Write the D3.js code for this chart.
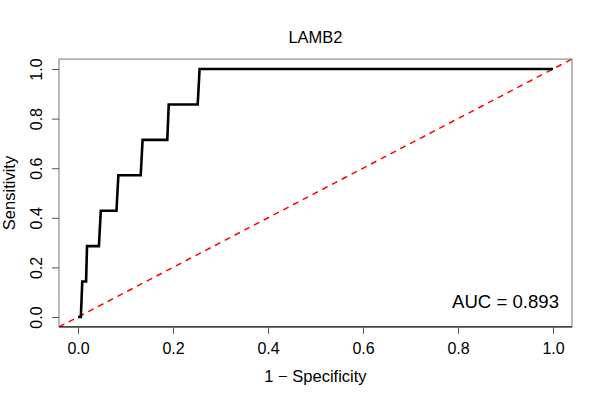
<!DOCTYPE html>
<html>
<head>
<meta charset="utf-8">
<script src="https://cdn.jsdelivr.net/npm/d3@7"></script>
<style>
  body { margin: 0; background: #fff; }
  text { font-family: "Liberation Sans", Arial, sans-serif; fill: #000; }
</style>
</head>
<body>
<div id="chart"></div>
<script>
// ROC curve data (1 - specificity vs sensitivity)
const fpr = [0, 0.006, 0.009, 0.017, 0.019, 0.044, 0.048, 0.081, 0.085, 0.132, 0.136, 0.188, 0.191, 0.252, 0.256, 1];
const tpr = [0, 0, 1/7, 1/7, 2/7, 2/7, 3/7, 3/7, 4/7, 4/7, 5/7, 5/7, 6/7, 6/7, 1, 1];
const xTicks = [0, 0.2, 0.4, 0.6, 0.8, 1.0];
const yTicks = [0, 0.2, 0.4, 0.6, 0.8, 1.0];
const chartTitle = 'LAMB2';
const aucLabel = 'AUC = 0.893';

const width = 600, height = 400;

const svg = d3.select('#chart')
    .append('svg')
    .attr('width', width)
    .attr('height', height);

// R-style scales: data range padded 4% on each side
const x = d3.scaleLinear().domain([0, 1]).range([78, 553]);
const y = d3.scaleLinear().domain([0, 1]).range([317, 69]);
const x0 = x(-0.04), x1 = x(1.04);
const y0 = y(-0.04), y1 = y(1.04);

// Clip to plot box
svg.append('clipPath')
    .attr('id', 'plot-clip')
    .append('rect')
    .attr('x', x0).attr('y', y1)
    .attr('width', x1 - x0).attr('height', y0 - y1);

// Diagonal reference line
svg.append('line')
    .attr('clip-path', 'url(#plot-clip)')
    .attr('x1', x(-0.04)).attr('y1', y(-0.04))
    .attr('x2', x(1.04)).attr('y2', y(1.04))
    .attr('stroke', '#ff0000')
    .attr('stroke-width', 1.5)
    .attr('stroke-dasharray', '6,5');

// ROC curve
const points = fpr.map((d, i) => [d, tpr[i]]);
svg.append('path')
    .datum(points)
    .attr('fill', 'none')
    .attr('stroke', '#000')
    .attr('stroke-width', 2.6)
    .attr('stroke-linejoin', 'miter')
    .attr('d', d3.line().x(d => x(d[0])).y(d => y(d[1])));

// Plot box
svg.append('rect')
    .attr('x', x0).attr('y', y1)
    .attr('width', x1 - x0).attr('height', y0 - y1)
    .attr('fill', 'none')
    .attr('stroke', '#777')
    .attr('stroke-width', 1);

// X axis
const xAxis = svg.append('g')
    .attr('transform', `translate(0,${y0})`)
    .call(d3.axisBottom(x)
        .tickValues(xTicks)
        .tickSize(7)
        .tickFormat(d3.format('.1f')));
xAxis.select('.domain').attr('stroke', '#000').attr('d', `M${x0},0H${x1}`);
xAxis.selectAll('.tick line').attr('stroke', '#555');
xAxis.selectAll('.tick text')
    .attr('dy', null)
    .attr('y', 27)
    .style('font-size', '16px');

// Y axis
const yAxis = svg.append('g')
    .attr('transform', `translate(${x0},0)`)
    .call(d3.axisLeft(y)
        .tickValues(yTicks)
        .tickSize(7)
        .tickFormat(d3.format('.1f')));
yAxis.select('.domain').remove();
yAxis.selectAll('.tick line').attr('stroke', '#555');
yAxis.selectAll('.tick text')
    .attr('x', null)
    .attr('dy', null)
    .attr('text-anchor', 'middle')
    .attr('transform', `translate(${41.7 - x0},0) rotate(-90)`)
    .style('font-size', '16px');

// Title
svg.append('text')
    .attr('x', (x0 + x1) / 2)
    .attr('y', 43)
    .attr('text-anchor', 'middle')
    .style('font-size', '16.5px')
    .text(chartTitle);

// Axis labels
svg.append('text')
    .attr('x', (x0 + x1) / 2)
    .attr('y', 382)
    .attr('text-anchor', 'middle')
    .style('font-size', '16.5px')
    .text('1 \u2212 Specificity');

svg.append('text')
    .attr('transform', `translate(14.5,${(y0 + y1) / 2}) rotate(-90)`)
    .attr('text-anchor', 'middle')
    .style('font-size', '16.5px')
    .text('Sensitivity');

// AUC annotation
svg.append('text')
    .attr('x', 559)
    .attr('y', 308)
    .attr('text-anchor', 'end')
    .style('font-size', '18.6px')
    .text(aucLabel);
</script>
</body>
</html>
